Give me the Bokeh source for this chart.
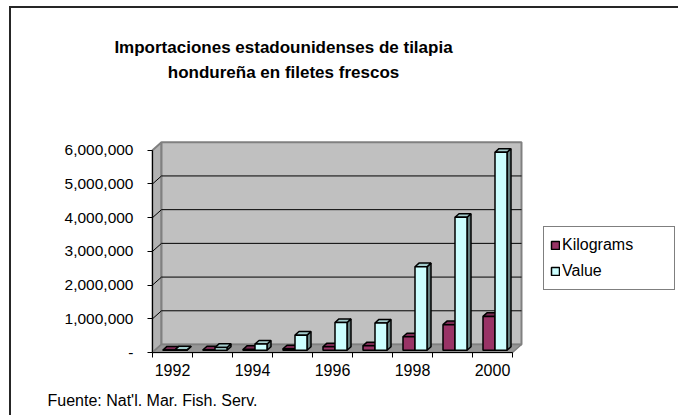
from bokeh.plotting import figure
from bokeh.models import (FixedTicker, NumeralTickFormatter, Label, Legend,
                          LegendItem, Range1d, LinearAxis)
from bokeh.embed import file_html
from bokeh.resources import INLINE

# ---------------- data ----------------
years = ["1992", "1993", "1994", "1995", "1996", "1997", "1998", "1999", "2000"]
kilograms = [8000, 15000, 25000, 45000, 105000, 135000, 400000, 760000, 1005000]
value_usd = [12000, 85000, 185000, 450000, 825000, 810000, 2480000, 3945000, 5875000]
labelled_years = ["1992", "1994", "1996", "1998", "2000"]
y_ticks = [0, 1000000, 2000000, 3000000, 4000000, 5000000, 6000000]
series_names = ["Kilograms", "Value"]
title_lines = ["Importaciones estadounidenses de tilapia",
               "hondureña en filetes frescos"]
source_note = "Fuente: Nat'l. Mar. Fish. Serv."

# ---------------- geometry ----------------
W, H = 678, 415
ORIGIN_X, ORIGIN_Y = 152, 352        # pixel position of (0, 0)
PX_PER_CAT = 40.0
PX_PER_UNIT = 33.71 / 1e6

x_start = -ORIGIN_X / PX_PER_CAT
x_end = (W - ORIGIN_X) / PX_PER_CAT
y_start = -(H - ORIGIN_Y) / PX_PER_UNIT
y_end = ORIGIN_Y / PX_PER_UNIT


def off(px_x, px_y):
    return px_x / PX_PER_CAT, px_y / PX_PER_UNIT


WDX, WDY = off(9, 8)        # back wall depth offset
FDX, FDY = off(2.5, 2.2)    # bar front plane
BDX, BDY = off(6.5, 5.8)    # bar back plane
n = len(years)
y_top = y_ticks[-1]

FONT = "Liberation Sans"

p = figure(width=W, height=H, output_backend="svg", toolbar_location=None,
           x_range=Range1d(x_start, x_end), y_range=Range1d(y_start, y_end),
           x_axis_location=None, y_axis_location=None,
           min_border=0, min_border_left=0, min_border_right=0,
           min_border_top=0, min_border_bottom=0)
p.border_fill_color = None
p.background_fill_color = None
p.outline_line_color = None
p.grid.visible = False
p.styles = {"box-shadow": "inset 9px 6px 0 0 white, inset 11px 8px 0 0 #262626"}

WALL_LINE = "#808080"
# side wall
p.patch([0, WDX, WDX, 0], [0, WDY, y_top + WDY, y_top],
        fill_color="#b2b2b2", line_color=WALL_LINE, line_width=2)
# back wall
p.patch([WDX, n + WDX, n + WDX, WDX], [WDY, WDY, y_top + WDY, y_top + WDY],
        fill_color="#c0c0c0", line_color=WALL_LINE, line_width=2)
# floor
p.patch([0, n, n + WDX, WDX], [0, 0, WDY, WDY],
        fill_color="#969696", line_color=WALL_LINE, line_width=1.5)

# gridlines on back wall and side wall
gy = y_ticks[1:-1]
p.segment(x0=[WDX] * len(gy), y0=[g + WDY for g in gy],
          x1=[n + WDX] * len(gy), y1=[g + WDY for g in gy],
          line_color="black", line_width=1)
p.segment(x0=[0] * len(gy), y0=gy, x1=[WDX] * len(gy), y1=[g + WDY for g in gy],
          line_color="black", line_width=1)


def draw_series(vals, x0s, x1s, front, top, side):
    tops_xs, tops_ys, sides_xs, sides_ys = [], [], [], []
    for v, a, b in zip(vals, x0s, x1s):
        tops_xs.append([a + FDX, b + FDX, b + BDX, a + BDX])
        tops_ys.append([v + FDY, v + FDY, v + BDY, v + BDY])
        sides_xs.append([b + FDX, b + BDX, b + BDX, b + FDX])
        sides_ys.append([FDY, BDY, v + BDY, v + FDY])
    p.patches(sides_xs, sides_ys, fill_color=side, line_color="black", line_width=1.5)
    p.patches(tops_xs, tops_ys, fill_color=top, line_color="black", line_width=1.5)
    r = p.quad(left=[a + FDX for a in x0s], right=[b + FDX for b in x1s],
               bottom=[FDY] * len(vals), top=[v + FDY for v in vals],
               fill_color=front, line_color="black", line_width=1.5)
    return r


idx = list(range(n))
r_kg = draw_series(kilograms, [i + 0.2 for i in idx], [i + 0.5 for i in idx],
                   "#993366", "#7a2952", "#5c1f3d")
r_val = draw_series(value_usd, [i + 0.5 for i in idx], [i + 0.8 for i in idx],
                    "#ccffff", "#a3cccc", "#668080")

# ---------------- axes (fixed at the data origin) ----------------
xa = LinearAxis(fixed_location=0)
xa.ticker = FixedTicker(ticks=[years.index(y) + 0.5 for y in labelled_years],
                        minor_ticks=list(range(n + 1)))
xa.major_label_overrides = {years.index(y) + 0.5: y for y in labelled_years}
xa.bounds = (0, n)
xa.major_tick_out = 0
xa.major_tick_in = 0
xa.minor_tick_out = 5
xa.minor_tick_in = 0
xa.minor_tick_line_color = "black"
xa.axis_line_color = "black"
xa.major_label_standoff = 6
xa.major_label_text_font = FONT
xa.major_label_text_font_size = "16px"
xa.major_label_text_color = "black"
p.add_layout(xa, "below")

ya = LinearAxis(fixed_location=0)
ya.ticker = FixedTicker(ticks=y_ticks)
ya.formatter = NumeralTickFormatter(format="0,0")
ya.major_label_overrides = {0: "-"}
ya.bounds = (0, y_top)
ya.major_tick_out = 5
ya.major_tick_in = 0
ya.minor_tick_line_color = None
ya.axis_line_color = "black"
ya.major_tick_line_color = "black"
ya.major_label_standoff = 14
ya.major_label_text_font = FONT
ya.major_label_text_font_size = "15.5px"
ya.major_label_text_color = "black"
p.add_layout(ya, "left")

# ---------------- texts ----------------
for line, py in zip(title_lines, [47, 72]):
    p.add_layout(Label(x=283, y=H - py, x_units="screen", y_units="screen", text=line,
                       text_align="center", text_baseline="middle",
                       text_font=FONT, text_font_style="bold",
                       text_font_size="17px", text_color="black"))

p.add_layout(Label(x=47, y=H - 400, x_units="screen", y_units="screen", text=source_note,
                   text_align="left", text_baseline="middle", text_font=FONT,
                   text_font_size="16px", text_color="black"))

legend = Legend(items=[LegendItem(label=series_names[0], renderers=[r_kg]),
                       LegendItem(label=series_names[1], renderers=[r_val])],
                location=(543, H - 290), orientation="vertical",
                glyph_width=10, glyph_height=10, label_standoff=2, padding=6,
                spacing=2, label_height=24, label_width=106, margin=0,
                border_line_color="black", border_line_width=1,
                background_fill_color="white", background_fill_alpha=1,
                label_text_font=FONT, label_text_font_size="16px",
                label_text_color="black")
p.add_layout(legend)

open("out.html", "w").write(file_html(p, INLINE))
